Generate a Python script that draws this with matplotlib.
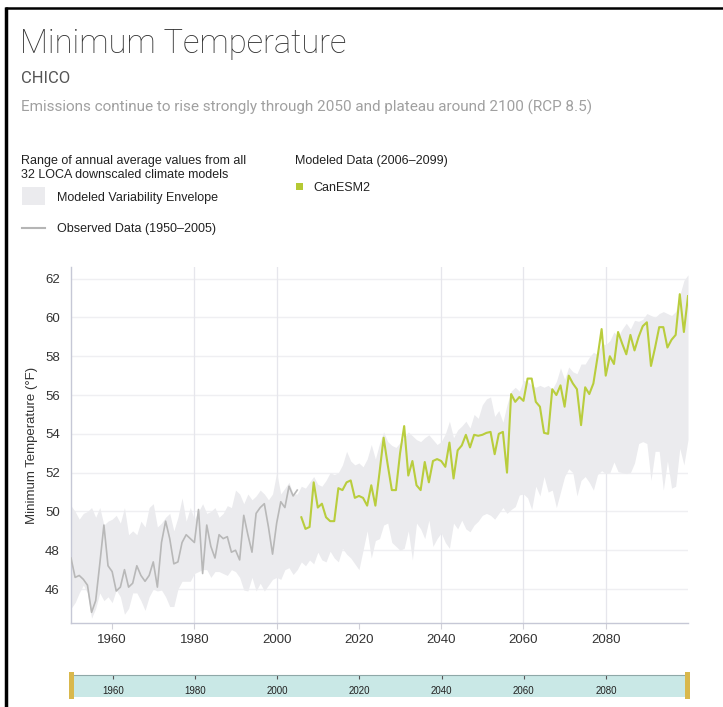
import numpy as np
import matplotlib
matplotlib.use("Agg")
import matplotlib.pyplot as plt
from matplotlib.patches import Rectangle

# observed annual minimum temperature, 1950-2005
obs_years = list(range(1950, 2006))
obs_vals = [47.6, 46.6, 46.7, 46.5, 46.2, 44.8, 45.4, 47.3, 49.3, 47.2,
            46.9, 45.9, 46.1, 47.0, 46.1, 46.3, 47.2, 46.7, 46.4, 46.7,
            47.4, 46.1, 48.4, 49.5, 48.6, 47.3, 47.4, 48.4, 48.8, 48.6,
            48.4, 50.1, 46.8, 49.3, 48.2, 47.6, 48.8, 48.6, 48.7, 47.9,
            48.0, 47.5, 49.8, 48.8, 47.9, 49.9, 50.2, 50.4, 49.2, 47.8,
            49.4, 50.5, 50.2, 51.3, 50.8, 51.1]

# CanESM2 modeled, 2006-2100
mod_years = list(range(2006, 2101))
mod_vals = [49.7, 49.1, 49.2, 51.5, 50.2, 50.4, 49.7, 49.5, 49.5, 51.2,
            51.1, 51.5, 51.6, 50.7, 50.8, 50.7, 50.3, 51.35, 50.3, 52.0,
            53.8, 52.4, 51.1, 51.1, 53.0, 54.4, 51.85, 52.6, 51.35, 51.1,
            52.55, 51.5, 52.6, 52.7, 52.6, 52.3, 53.55, 51.7, 53.15, 53.4,
            53.95, 53.3, 53.95, 53.9, 53.95, 54.05, 54.1, 52.95, 54.0, 54.1,
            52.0, 56.05, 55.65, 55.9, 55.7, 56.85, 56.85, 55.65, 55.4, 54.05,
            54.0, 56.3, 56.0, 56.5, 55.4, 57.0, 56.6, 56.3, 54.45, 56.4,
            56.05, 56.6, 57.95, 59.4, 57.0, 58.0, 57.6, 59.25, 58.65, 58.1,
            59.1, 58.3, 59.0, 59.55, 59.75, 57.5, 58.45, 59.5, 59.5, 58.45,
            58.85, 59.1, 61.2, 59.25, 61.1]

# LOCA envelope (min / max of 32 models), 1950-2100
env_years = list(range(1950, 2101))
env_upper = [50.3, 50.0, 49.6, 49.9, 50.0, 50.2, 49.7, 50.2, 49.3, 49.5,
             49.6, 49.8, 49.4, 50.2, 48.8, 49.0, 48.8, 49.5, 49.2, 50.2,
             50.4, 49.2, 49.4, 49.7, 49.9, 49.0, 49.7, 50.7, 49.5, 50.2,
             49.6, 50.0, 50.4, 49.9, 50.0, 50.2, 49.7, 49.9, 50.3, 50.2,
             51.1, 50.9, 50.4, 50.9, 50.6, 50.8, 51.1, 50.9, 50.6, 50.9,
             52.0, 50.9, 51.2, 51.5, 50.9, 50.9, 51.3, 51.2, 51.5, 51.8,
             51.4, 51.3, 51.6, 52.0, 51.9, 52.0, 52.4, 53.1, 52.6, 52.4,
             52.5, 52.3, 52.7, 53.45, 52.7, 53.5, 54.1, 53.6, 53.4, 53.3,
             53.55, 53.8, 54.1, 53.9, 53.7, 53.6, 53.8, 53.95, 53.7, 53.45,
             53.6, 54.0, 54.65, 53.8, 54.2, 54.4, 54.65, 54.3, 55.0, 54.8,
             55.5, 55.8, 55.9, 54.9, 55.2, 54.6, 55.5, 56.2, 56.4, 56.2,
             56.75, 56.7, 56.5, 56.4, 56.5, 56.4, 56.5, 56.3, 56.7, 57.4,
             56.8, 57.45, 57.2, 57.1, 57.6, 57.6, 57.95, 58.2, 58.1, 58.65,
             58.6, 58.8, 59.25, 59.0, 59.4, 59.7, 59.4, 59.85, 59.8, 59.9,
             60.2, 60.1, 60.0, 60.2, 60.3, 60.2, 60.1, 60.3, 61.15, 61.9,
             62.2]
env_lower = [45.0, 45.3, 45.8, 46.2, 45.8, 44.5, 45.0, 45.8, 45.4, 45.6,
             45.3, 45.95, 45.6, 44.7, 45.0, 45.8, 45.8, 45.4, 44.9, 45.6,
             46.0, 45.9, 45.95, 45.6, 45.1, 45.1, 46.0, 46.4, 46.4, 46.4,
             46.8, 46.9, 47.0, 47.0, 46.6, 46.9, 46.9, 46.8, 46.7, 47.0,
             46.9, 46.6, 45.95, 45.9, 46.6, 45.9, 46.3, 45.9, 46.2, 46.5,
             46.6, 46.5, 47.0, 47.1, 46.75, 47.0, 47.4, 47.2, 47.5, 47.3,
             47.9, 47.5, 47.4, 47.95, 47.6, 47.4, 48.1, 47.8, 47.6, 47.3,
             47.0, 48.0, 49.0, 47.6, 48.5, 48.6, 49.3, 49.4, 48.4, 48.2,
             48.0, 48.1, 49.0, 47.5, 49.4, 49.1, 48.6, 49.55, 48.2, 48.6,
             48.9, 48.4, 48.1, 49.4, 49.1, 49.55, 49.1, 48.95, 49.3, 49.5,
             49.8, 49.9, 49.8, 49.6, 49.9, 50.2, 49.9, 50.1, 50.25, 50.85,
             50.9, 50.7, 50.1, 51.3, 50.8, 51.8, 51.0, 51.1, 50.2, 51.0,
             51.8, 52.2, 52.0, 50.8, 51.6, 51.8, 51.5, 51.1, 51.9, 52.1,
             51.95, 52.0, 52.55, 52.05, 52.0, 51.95, 52.0, 52.5, 53.5, 53.6,
             53.5, 51.6, 53.1, 53.1, 51.1, 52.6, 51.2, 51.3, 53.25, 52.4,
             53.7]

x_ticks = [1960, 1980, 2000, 2020, 2040, 2060, 2080]
x_grid = [1980, 2000, 2040, 2060, 2080]
y_ticks = [46, 48, 50, 52, 54, 56, 58, 60, 62]

W, H = 723, 707
fig = plt.figure(figsize=(W / 100, H / 100), dpi=100)
fig.patch.set_facecolor("white")

# overlay in pixel coordinates for headers, legend, frame
ov = fig.add_axes([0, 0, 1, 1])
ov.set_xlim(0, W)
ov.set_ylim(H, 0)
ov.axis("off")

ov.plot([6, 6], [7, H], color="black", lw=2.5, solid_capstyle="butt")
ov.plot([5, W], [8, 8], color="black", lw=1.8, solid_capstyle="butt")

ov.text(20, 53, "Minimum Temperature", fontsize=23.5, color="#333333",
        family="Roboto", fontweight="light", va="baseline")
ov.text(21, 83, "CHICO", fontsize=12, color="#555555",
        family="Roboto", va="baseline")
ov.text(21, 112, "Emissions continue to rise strongly through 2050 and plateau around 2100 (RCP 8.5)",
        fontsize=11, color="#a0a0a0", family="Roboto", va="baseline")

leg_font = ["Liberation Sans", "DejaVu Sans"]
ov.text(21, 164, "Range of annual average values from all", fontsize=9,
        color="#222222", family=leg_font, va="baseline")
ov.text(21, 178, "32 LOCA downscaled climate models", fontsize=9,
        color="#222222", family=leg_font, va="baseline")
ov.add_patch(Rectangle((22, 187), 23, 18, color="#ebebee", lw=0))
ov.text(57, 201, "Modeled Variability Envelope", fontsize=9,
        color="#222222", family=leg_font, va="baseline")
ov.plot([22, 45], [228, 228], color="#b5b5b5", lw=1.5)
ov.text(57, 232, "Observed Data (1950\u20132005)", fontsize=9,
        color="#222222", family=leg_font, va="baseline")
ov.text(295, 164, "Modeled Data (2006\u20132099)", fontsize=9,
        color="#222222", family=leg_font, va="baseline")
ov.add_patch(Rectangle((296, 183), 7, 7, color="#b5c934", lw=0))
ov.text(313, 191, "CanESM2", fontsize=9,
        color="#222222", family=leg_font, va="baseline")

# main chart
ax = fig.add_axes([71 / W, 1 - 623 / H, (688 - 71) / W, (623 - 267) / H])
ax.fill_between(env_years, env_lower, env_upper, color="#ebebee", lw=0, zorder=1)
ax.plot(obs_years, obs_vals, color="#b8b8b8", lw=1.2, zorder=3)
ax.plot(mod_years, mod_vals, color="#b9cd3d", lw=1.5, zorder=3)

ax.set_xlim(1950, 2100)
ax.set_ylim(44.25, 62.6)
ax.set_xticks(x_ticks)
ax.set_yticks(y_ticks)
for y in y_ticks:
    ax.axhline(y, color="#efeff2", lw=1, zorder=0)
for x in x_grid:
    ax.axvline(x, color="#e6e6ec", lw=0.9, zorder=0)
for s in ["top", "right"]:
    ax.spines[s].set_visible(False)
for s in ["left", "bottom"]:
    ax.spines[s].set_color("#c6c8d6")
    ax.spines[s].set_linewidth(1)
tick_font = ["Liberation Sans", "DejaVu Sans"]
ax.tick_params(axis="x", length=4, color="#d0d0d8", pad=4, labelsize=9.5,
               labelcolor="#333333")
ax.tick_params(axis="y", length=0, pad=8, labelsize=9.5, labelcolor="#333333")
for lab in ax.get_xticklabels() + ax.get_yticklabels():
    lab.set_family(tick_font)
ax.set_ylabel("Minimum Temperature (\u00b0F)", fontsize=9.5, color="#333333",
              family=tick_font, labelpad=5)

# range slider below the chart
sl = fig.add_axes([72 / W, 1 - 697 / H, (688 - 72) / W, 22 / H])
sl.set_facecolor("#c9e8e6")
sl.set_xlim(1950, 2100)
sl.set_ylim(0, 1)
sl.set_yticks([])
sl.set_xticks(x_ticks)
sl.xaxis.tick_top()
sl.tick_params(axis="x", direction="in", length=3, color="#555555",
               pad=-15, labelsize=7, labelcolor="#222222")
for lab in sl.get_xticklabels():
    lab.set_family(["Liberation Sans", "DejaVu Sans"])
for s in ["bottom", "left", "right"]:
    sl.spines[s].set_visible(False)
sl.spines["top"].set_color("#8fa8a8")
sl.spines["top"].set_linewidth(0.8)

ov.add_patch(Rectangle((69, 672), 5, 27, color="#d9b84c", lw=0, zorder=5))
ov.add_patch(Rectangle((685, 672), 5, 27, color="#d9b84c", lw=0, zorder=5))
ov.set_zorder(2)
ov.patch.set_visible(False)

fig.savefig("out.png", dpi=100)
